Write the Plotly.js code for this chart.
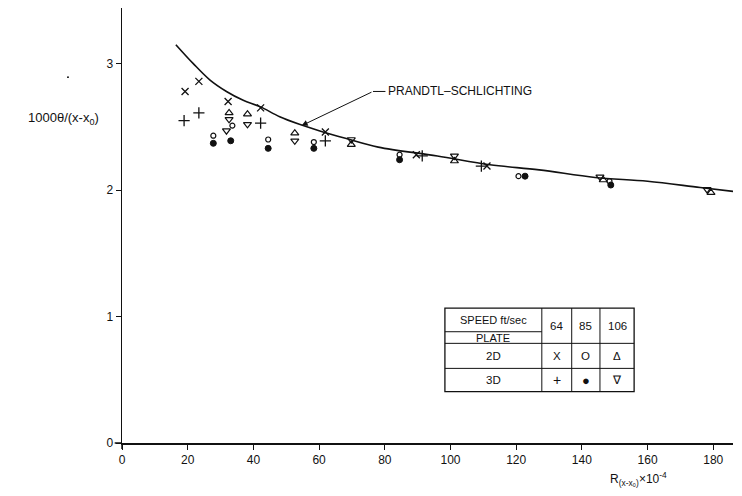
<!DOCTYPE html>
<html>
<head>
<meta charset="utf-8">
<script src="https://cdn.plot.ly/plotly-3.0.1.min.js"></script>
<style>html,body{margin:0;padding:0;background:#fff;}#chart{width:742px;height:496px;}</style>
</head>
<body>
<div id="chart"></div>
<script>
// Prandtl-Schlichting curve
const curveX = [16.4, 21.7, 26.8, 31.8, 36.9, 42, 48, 54, 60, 68, 78, 96, 112, 127, 144, 160, 176, 186];
const curveY = [3.15, 3.00, 2.87, 2.78, 2.71, 2.66, 2.58, 2.52, 2.47, 2.41, 2.34, 2.27, 2.20, 2.16, 2.10, 2.07, 2.02, 1.99];

// 2D plate, 64 ft/sec (x)
const p2d64X = [19.2, 23.4, 32.3, 42.2, 61.9, 89.6, 111.1];
const p2d64Y = [2.78, 2.86, 2.70, 2.65, 2.46, 2.28, 2.19];
// 3D plate, 64 ft/sec (+)
const p3d64X = [18.9, 23.4, 42.2, 61.9, 91.4, 109.4];
const p3d64Y = [2.55, 2.61, 2.53, 2.39, 2.27, 2.19];
// 2D plate, 85 ft/sec (open circle)
const p2d85X = [27.8, 33.6, 44.5, 58.4, 84.5, 120.7, 148.4];
const p2d85Y = [2.43, 2.51, 2.40, 2.38, 2.28, 2.11, 2.07];
// 3D plate, 85 ft/sec (filled circle)
const p3d85X = [27.8, 33.1, 44.5, 58.4, 84.5, 122.7, 148.8];
const p3d85Y = [2.37, 2.39, 2.33, 2.33, 2.24, 2.11, 2.04];
// 2D plate, 106 ft/sec (triangle up)
const p2d106X = [32.6, 38.2, 52.6, 69.8, 101.2, 146.5, 179.3];
const p2d106Y = [2.61, 2.60, 2.45, 2.36, 2.23, 2.08, 1.98];
// 3D plate, 106 ft/sec (triangle down)
const p3d106X = [31.8, 32.6, 38.2, 52.6, 69.8, 101.2, 145.5, 178.1];
const p3d106Y = [2.47, 2.56, 2.52, 2.39, 2.40, 2.27, 2.105, 2.005];

const xTicks = [0, 20, 40, 60, 80, 100, 120, 140, 160, 180];
const yTicks = [0, 1, 2, 3];

const tableHeader = ['SPEED ft/sec', 'PLATE', '64', '85', '106'];
const tableRows = [['2D', 'X', 'O', 'Δ'], ['3D', '+', '●', '∇']];

const FONT = 'Liberation Sans, Arial, sans-serif';
const blk = '#111';

function mk(x, y, sym, size, lw) {
  return {x: x, y: y, type: 'scatter', mode: 'markers', hoverinfo: 'skip',
    marker: {symbol: sym, size: size, color: blk, line: {color: blk, width: lw}}};
}

const traces = [
  {x: curveX, y: curveY, type: 'scatter', mode: 'lines', line: {color: blk, width: 1.6, shape: 'spline', smoothing: 1}},
  mk(p2d64X, p2d64Y, 'x-thin-open', 7, 1.3),
  mk(p3d64X, p3d64Y, 'cross-thin-open', 8, 1.3),
  mk(p2d85X, p2d85Y, 'circle-open', 5, 1.2),
  mk(p3d85X, p3d85Y, 'circle', 6, 1),
  mk(p2d106X, p2d106Y, 'triangle-up-open', 7, 1.2),
  mk(p3d106X, p3d106Y, 'triangle-down-open', 7, 1.2)
];

// table geometry (data coords)
const tx = [98.3, 127.8, 136.9, 145.5, 155.9];
const ty = [1.067, 0.880, 0.788, 0.590, 0.406];
const shapes = [];
const ln = {color: blk, width: 1};
shapes.push({type: 'rect', xref: 'x', yref: 'y', x0: tx[0], x1: tx[4], y0: ty[4], y1: ty[0], line: {color: blk, width: 1.3}});
for (let i = 1; i < 4; i++) shapes.push({type: 'line', xref: 'x', yref: 'y', x0: tx[i], x1: tx[i], y0: ty[4], y1: ty[0], line: ln});
shapes.push({type: 'line', xref: 'x', yref: 'y', x0: tx[0], x1: tx[1], y0: ty[1], y1: ty[1], line: ln});
shapes.push({type: 'line', xref: 'x', yref: 'y', x0: tx[0], x1: tx[4], y0: ty[2], y1: ty[2], line: ln});
shapes.push({type: 'line', xref: 'x', yref: 'y', x0: tx[0], x1: tx[4], y0: ty[3], y1: ty[3], line: ln});
// leader horizontal segment
shapes.push({type: 'line', xref: 'x', yref: 'y', x0: 76.4, x1: 80.2, y0: 2.78, y1: 2.78, line: {color: blk, width: 1}});
// axis overhang at the origin
shapes.push({type: 'line', xref: 'paper', yref: 'paper', x0: -0.012, x1: 0, y0: 0, y1: 0, line: {color: blk, width: 1.5}});
shapes.push({type: 'line', xref: 'paper', yref: 'paper', x0: 0, x1: 0, y0: -0.014, y1: 0, line: {color: blk, width: 1.5}});
// stray speck in the scan
shapes.push({type: 'circle', xref: 'paper', yref: 'paper', x0: -0.0900, x1: -0.0868, y0: 0.839, y1: 0.843, fillcolor: blk, line: {width: 0}});

const cx = [(tx[0]+tx[1])/2, (tx[1]+tx[2])/2, (tx[2]+tx[3])/2, (tx[3]+tx[4])/2];
const annotations = [];
function txt(x, y, t, size) {
  annotations.push({x: x, y: y, xref: 'x', yref: 'y', text: t, showarrow: false,
    font: {family: FONT, size: size || 11, color: blk}});
}
txt(cx[0], 0.972, tableHeader[0], 11);
txt(cx[0], 0.834, tableHeader[1], 11);
txt(cx[1], 0.926, tableHeader[2], 11.5);
txt(cx[2], 0.926, tableHeader[3], 11.5);
txt(cx[3], 0.926, tableHeader[4], 11.5);
const rowY = [0.689, 0.498];
tableRows.forEach((r, i) => r.forEach((c, j) => txt(cx[j], rowY[i], c, (c === '●') ? 13 : (c === '+' ? 14 : 11.5))));

// curve label + arrow
annotations.push({x: 80.5, y: 2.78, xref: 'x', yref: 'y', xanchor: 'left', yanchor: 'middle',
  text: 'PRANDTL–SCHLICHTING', showarrow: false, font: {family: FONT, size: 12, color: blk}});
annotations.push({x: 54.7, y: 2.51, xref: 'x', yref: 'y', ax: 76.4, ay: 2.78, axref: 'x', ayref: 'y',
  text: ' ', font: {size: 1}, showarrow: true, arrowhead: 2, arrowsize: 1.2, arrowwidth: 1, arrowcolor: blk, standoff: 0, startstandoff: 0});

// axis titles
annotations.push({xref: 'paper', yref: 'paper', x: -0.095, y: 0.745, xanchor: 'center', yanchor: 'middle',
  text: '1000θ/(x-x<sub>0</sub>)', showarrow: false, font: {family: FONT, size: 13, color: blk}});
annotations.push({xref: 'paper', yref: 'paper', x: 0.845, y: -0.082, xanchor: 'center', yanchor: 'middle',
  text: 'R<sub>(x-x₀)</sub>×10<sup>-4</sup>', showarrow: false, font: {family: FONT, size: 12, color: blk}});

const layout = {
  width: 742, height: 496,
  margin: {l: 122, r: 9, t: 8, b: 53},
  paper_bgcolor: '#fff', plot_bgcolor: '#fff',
  showlegend: false,
  font: {family: FONT, size: 11, color: blk},
  xaxis: {range: [0, 186], tickvals: xTicks, ticktext: xTicks.map(String), showgrid: false, zeroline: false,
    showline: true, linecolor: blk, linewidth: 1.5, ticks: 'outside', ticklen: 5, tickcolor: blk, tickwidth: 1,
    tickfont: {family: FONT, size: 12, color: blk}},
  yaxis: {range: [0, 3.44], tickvals: yTicks, ticktext: yTicks.map(String), showgrid: false, zeroline: false,
    showline: true, linecolor: blk, linewidth: 1.5, ticks: 'outside', ticklen: 5, tickcolor: blk, tickwidth: 1,
    tickfont: {family: FONT, size: 12, color: blk}},
  shapes: shapes,
  annotations: annotations
};

Plotly.newPlot('chart', traces, layout, {displayModeBar: false, staticPlot: true});
</script>
</body>
</html>
